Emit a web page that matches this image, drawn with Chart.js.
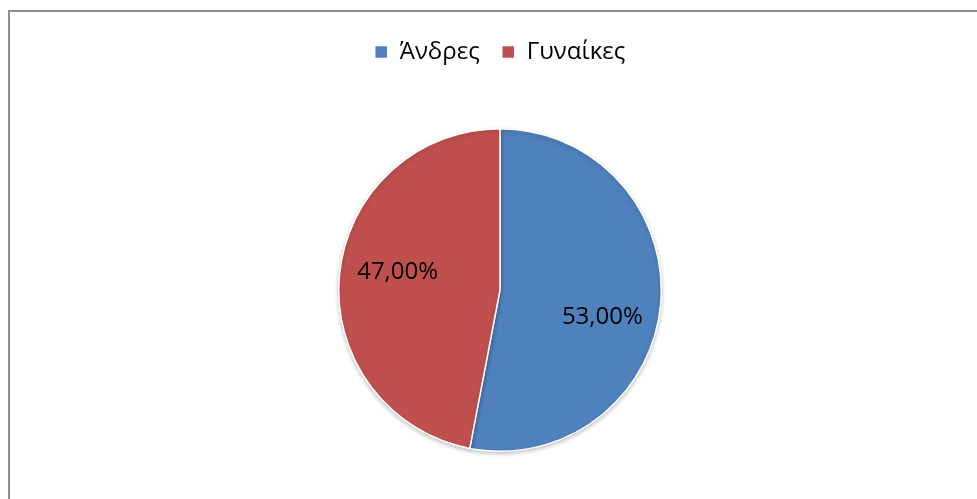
<!DOCTYPE html>
<html>
<head>
<meta charset="utf-8">
<script src="https://cdn.jsdelivr.net/npm/chart.js@4.4.1/dist/chart.umd.min.js"></script>
<style>
  body { margin: 0; background: #fff; overflow: hidden; }
  #frame { position: absolute; left: 8px; top: 10px; width: 1100px; height: 700px; border-left: 2px solid #8e8e8e; border-top: 2px solid #8e8e8e; }
  #wrap { position: absolute; left: 0; top: 0; width: 977px; height: 499px; }
</style>
</head>
<body>
<div id="frame"></div>
<div id="wrap"><canvas id="pieChart" width="977" height="499"></canvas></div>
<script>
var pieChart = document.getElementById('pieChart');

const genders = ['Άνδρες', 'Γυναίκες'];
const shares = [53, 47];
const sliceColors = ['#4F81BD', '#C0504D'];

// bigger gap under the legend, like the original
const legendSpace = {
    id: 'legendSpace',
    beforeInit(chart) {
        const fit = chart.legend.fit;
        chart.legend.fit = function () {
            fit.bind(chart.legend)();
            this.height += 54;
        };
    }
};

const pieShadow = {
    id: 'pieShadow',
    beforeDatasetsDraw(chart) {
        const ctx = chart.ctx;
        ctx.save();
        ctx.shadowColor = 'rgba(0,0,0,0.22)';
        ctx.shadowBlur = 4;
        ctx.shadowOffsetY = 2;
    },
    afterDatasetsDraw(chart) {
        chart.ctx.restore();
    }
};

const sliceLabels = {
    id: 'sliceLabels',
    afterDraw(chart) {
        const ctx = chart.ctx;
        const arcs = chart.getDatasetMeta(0).data;
        ctx.save();
        ctx.font = '24px "Open Sans", "DejaVu Sans", sans-serif';
        ctx.fillStyle = '#000';
        ctx.textAlign = 'center';
        ctx.textBaseline = 'middle';
        arcs.forEach((arc, i) => {
            const mid = (arc.startAngle + arc.endAngle) / 2 + 7 * Math.PI / 180;
            const r = arc.outerRadius * 0.65;
            const txt = shares[i].toFixed(2).replace('.', ',') + '%';
            ctx.fillText(txt, arc.x + Math.cos(mid) * r, arc.y + Math.sin(mid) * r + 5);
        });
        ctx.restore();
    }
};

var myChart = new Chart(pieChart, {
    type: 'pie',
    data: {
        labels: genders,
        datasets: [{
            data: shares,
            backgroundColor: sliceColors,
            borderColor: '#ffffff',
            borderWidth: 1.5
        }]
    },
    options: {
        responsive: false,
        devicePixelRatio: 1,
        animation: false,
        layout: { padding: { top: 18, bottom: 47, left: 23, right: 0 } },
        plugins: {
            tooltip: { enabled: false },
            legend: {
                position: 'top',
                labels: {
                    boxWidth: 13,
                    boxHeight: 13,
                    padding: 22,
                    color: '#000',
                    font: { family: '"Open Sans", "DejaVu Sans", sans-serif', size: 24 }
                }
            }
        }
    },
    plugins: [legendSpace, pieShadow, sliceLabels]
});
</script>
</body>
</html>
